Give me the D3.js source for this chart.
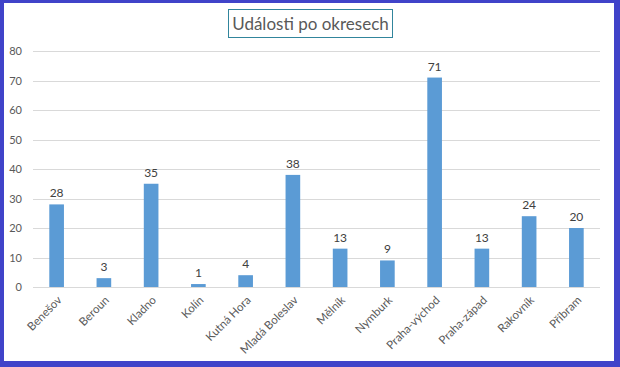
<!DOCTYPE html>
<html>
<head>
<meta charset="utf-8">
<script src="https://cdn.jsdelivr.net/npm/d3@7"></script>
<style>
  body { margin: 0; background: #fff; }
  svg { display: block; font-family: Lato, "Open Sans", sans-serif; }
</style>
</head>
<body>
<div id="chart"></div>
<script>
// Data
const districts = ["Benešov", "Beroun", "Kladno", "Kolín", "Kutná Hora", "Mladá Boleslav",
  "Mělník", "Nymburk", "Praha-východ", "Praha-západ", "Rakovník", "Příbram"];
const eventCounts = [28, 3, 35, 1, 4, 38, 13, 9, 71, 13, 24, 20];
const yTicks = [0, 10, 20, 30, 40, 50, 60, 70, 80];
const chartTitle = "Události po okresech";

const width = 620, height = 367;
const margin = { top: 51, right: 20, bottom: 80, left: 33 };

const svg = d3.select("#chart").append("svg")
  .attr("width", width)
  .attr("height", height);

// White background with blue frame
svg.append("rect")
  .attr("width", width)
  .attr("height", height)
  .attr("fill", "#4043c9");
svg.append("rect")
  .attr("x", 4)
  .attr("y", 3)
  .attr("width", width - 4 - 6)
  .attr("height", height - 3 - 6)
  .attr("fill", "#fff");

// Scales
const x = d3.scaleBand()
  .domain(districts)
  .range([margin.left, width - margin.right])
  .paddingInner(0.69)
  .paddingOuter(0.345);

const y = d3.scaleLinear()
  .domain([0, 80])
  .range([height - margin.bottom, margin.top]);

// Gridlines
svg.append("g")
  .selectAll("line")
  .data(yTicks)
  .join("line")
  .attr("x1", margin.left)
  .attr("x2", width - margin.right)
  .attr("y1", d => Math.round(y(d)) + 0.5)
  .attr("y2", d => Math.round(y(d)) + 0.5)
  .attr("stroke", "#d9d9d9")
  .attr("stroke-width", 1);

// Y axis labels
const yAxis = svg.append("g")
  .attr("transform", "translate(" + (margin.left - 11) + ",0)")
  .call(d3.axisLeft(y).tickValues(yTicks).tickSize(0).tickPadding(0));
yAxis.select(".domain").remove();
yAxis.selectAll("text")
  .attr("fill", "#595959")
  .style("font-size", "11px")
  .style("font-family", "Lato, sans-serif");

// Bars
svg.append("g")
  .selectAll("rect")
  .data(districts)
  .join("rect")
  .attr("x", d => x(d))
  .attr("width", x.bandwidth())
  .attr("y", (d, i) => y(eventCounts[i]))
  .attr("height", (d, i) => y(0) - y(eventCounts[i]))
  .attr("fill", "#5b9bd5");

// Value labels
svg.append("g")
  .selectAll("text")
  .data(districts)
  .join("text")
  .attr("x", d => x(d) + x.bandwidth() / 2)
  .attr("y", (d, i) => y(eventCounts[i]) - 7)
  .attr("text-anchor", "middle")
  .attr("fill", "#404040")
  .style("font-size", "12px")
  .text((d, i) => eventCounts[i]);

// X axis labels, rotated
svg.append("g")
  .selectAll("text")
  .data(districts)
  .join("text")
  .attr("transform", d => "translate(" + (x(d) + x.bandwidth() / 2 + 3) + "," + (y(0) + 11) + ") rotate(-45)")
  .attr("text-anchor", "end")
  .attr("dy", "0.35em")
  .attr("fill", "#595959")
  .style("font-size", "11.5px")
  .text(d => d);

// Title in a box
svg.append("rect")
  .attr("x", 228.5)
  .attr("y", 9.5)
  .attr("width", 164)
  .attr("height", 28)
  .attr("fill", "#fff")
  .attr("stroke", "#31859c")
  .attr("stroke-width", 1);
svg.append("text")
  .attr("x", 310.5)
  .attr("y", 30)
  .attr("text-anchor", "middle")
  .attr("fill", "#595959")
  .style("font-size", "17px")
  .text(chartTitle);
</script>
</body>
</html>
